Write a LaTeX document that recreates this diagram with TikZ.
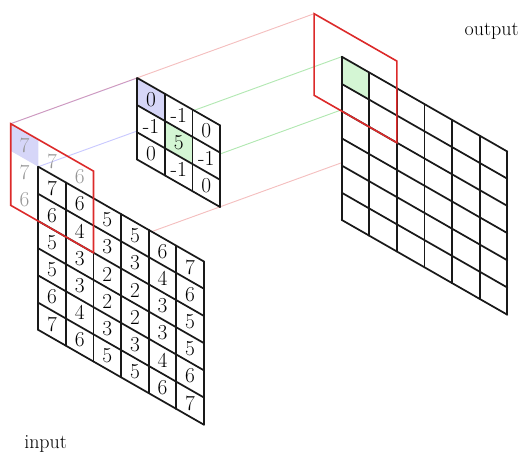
\documentclass[tikz,border=0pt]{standalone}
\usepackage{tikz}
\usetikzlibrary{positioning}
\usetikzlibrary{backgrounds}

\definecolor{cellblue}{RGB}{214,214,248}
\definecolor{cellgreen}{RGB}{212,246,212}
\definecolor{winred}{RGB}{220,42,42}
\definecolor{padgrey}{RGB}{150,150,150}

\tikzset{
  cellnum/.style={inner sep=0pt, font=\fontsize{16}{18}\selectfont},
  padnum/.style={cellnum, text=padgrey},
  caption/.style={inner sep=0pt, font=\fontsize{15}{17}\selectfont},
  gridline/.style={line width=1.3pt, draw=black!90, line cap=round},
  window/.style={line width=1.2pt, draw=winred, line join=miter},
  ray/.style={line width=0.7pt, opacity=0.3},
}

\begin{document}
\begin{tikzpicture}[x=0.75pt,y=0.75pt,yscale=-1,xscale=1]
        \useasboundingbox (0,0) rectangle (523,455);

        % input plane (padded window shown in red)
        \begin{scope}[shift={(38.3,166.7)},x={(27.6,15.8)},y={(0,27.2)}]
          \fill[white] (0,0) -- (6,0) -- (6,6) -- (0,6) -- cycle;
          \fill[cellblue] (-1,-1) -- (0,-1) -- (0,0) -- (-1,0) -- cycle;
          \foreach \k in {0,...,6} {
            \draw[gridline] (\k,0) -- (\k,6);
            \draw[gridline] (0,\k) -- (6,\k);
          }
          \draw[window] (-1,-1) -- (2,-1) -- (2,2) -- (-1,2) -- cycle;
          \coordinate (inTL) at (-1,-1);
          \coordinate (inBlue) at (0,0);
          \coordinate (inBR) at (2,2);
          \node[padnum] (pad-a) at (-0.5,-0.5) {7};
          \node[padnum] (pad-b) at (0.5,-0.5) {7};
          \node[padnum] (pad-c) at (1.5,-0.5) {6};
          \node[padnum] (pad-d) at (-0.5,0.5) {7};
          \node[padnum] (pad-e) at (-0.5,1.5) {6};
          \foreach \vals [count=\r from 0] in {{7,6,5,5,6,7},{6,4,3,3,4,6},{5,3,2,2,3,5},{5,3,2,2,3,5},{6,4,3,3,4,6},{7,6,5,5,6,7}} {
            \foreach \v [count=\c from 0] in \vals
              \node[cellnum] (in-\r-\c) at (\c+0.5,\r+0.5) {\v};
          }
        \end{scope}

        % kernel
        \begin{scope}[shift={(137.3,78.0)},x={(27.6,15.8)},y={(0,27.2)}]
          \fill[white] (0,0) -- (3,0) -- (3,3) -- (0,3) -- cycle;
          \fill[cellblue] (0,0) -- (1,0) -- (1,1) -- (0,1) -- cycle;
          \fill[cellgreen] (1,1) -- (2,1) -- (2,2) -- (1,2) -- cycle;
          \foreach \k in {0,...,3} {
            \draw[gridline] (\k,0) -- (\k,3);
            \draw[gridline] (0,\k) -- (3,\k);
          }
          \coordinate (kTL) at (0,0);
          \coordinate (kBlue) at (1,1);
          \coordinate (kGreenTL) at (1,1);
          \coordinate (kGreenBR) at (2,2);
          \foreach \vals [count=\r from 0] in {{0,-1,0},{-1,5,-1},{0,-1,0}} {
            \foreach \v [count=\c from 0] in \vals
              \node[cellnum] (k-\r-\c) at (\c+0.5,\r+0.5) {\v};
          }
        \end{scope}

        % output plane
        \begin{scope}[shift={(341.7,56.7)},x={(27.6,15.8)},y={(0,27.2)}]
          \fill[white] (0,0) -- (6,0) -- (6,6) -- (0,6) -- cycle;
          \fill[cellgreen] (0,0) -- (1,0) -- (1,1) -- (0,1) -- cycle;
          \foreach \k in {0,...,6} {
            \draw[gridline] (\k,0) -- (\k,6);
            \draw[gridline] (0,\k) -- (6,\k);
          }
          \draw[window] (-1,-1) -- (2,-1) -- (2,2) -- (-1,2) -- cycle;
          \coordinate (outTL) at (-1,-1);
          \coordinate (outGreenTL) at (0,0);
          \coordinate (outGreenBR) at (1,1);
          \coordinate (outBR) at (2,2);
        \end{scope}

        % rays between the planes
        \begin{pgfonlayer}{background}
          \draw[ray, draw=blue!70] (inTL) -- (kTL);
          \draw[ray, draw=blue!70] (inBlue) -- (kBlue);
          \draw[ray, draw=green!70!black] (kGreenTL) -- (outGreenTL);
          \draw[ray, draw=green!70!black] (kGreenBR) -- (outGreenBR);
          \draw[ray, draw=winred] (inTL) -- (outTL);
          \draw[ray, draw=winred] (inBR) -- (outBR);
        \end{pgfonlayer}

        % Text Node
        \node[caption, anchor=base east] (outlabel) at (519,35) {output};
        % Text Node
        \node[caption, anchor=base west] (inlabel) at (24,448) {input};
\end{tikzpicture}
\end{document}
